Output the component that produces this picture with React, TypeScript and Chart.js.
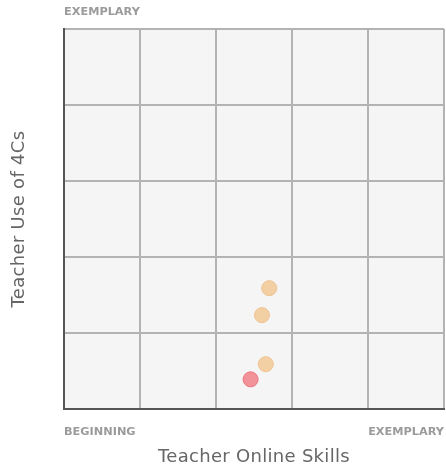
import React, { useEffect, useRef } from "react";
import { Chart, registerables } from "chart.js";

Chart.register(...registerables);

const xLabelStart = "BEGINNING";
const xLabelEnd = "EXEMPLARY";
const yLabelEnd = "EXEMPLARY";
const xTitle = "Teacher Online Skills";
const yTitle = "Teacher Use of 4Cs";

const peachX = [54.0, 52.1, 53.1];
const peachY = [31.8, 24.7, 11.8];
const redX = [49.1];
const redY = [7.8];

const FONT = "'DejaVu Sans', sans-serif";

const bgPlugin = {
  id: "bgPlugin",
  beforeDraw(chart: any) {
    const { ctx, chartArea } = chart;
    ctx.save();
    ctx.fillStyle = "#f5f5f5";
    ctx.fillRect(chartArea.left, chartArea.top, chartArea.right - chartArea.left, chartArea.bottom - chartArea.top);
    ctx.restore();
  },
  afterDraw(chart: any) {
    const { ctx, chartArea } = chart;
    ctx.save();
    ctx.fillStyle = "#9b9b9b";
    ctx.font = `bold 11.3px ${FONT}`;
    ctx.textBaseline = "middle";
    ctx.textAlign = "left";
    ctx.fillText(yLabelEnd, chartArea.left, 12);
    ctx.fillText(xLabelStart, chartArea.left, chartArea.bottom + 23);
    ctx.textAlign = "right";
    ctx.fillText(xLabelEnd, chartArea.right, chartArea.bottom + 23);
    ctx.fillStyle = "#666666";
    ctx.font = `18px ${FONT}`;
    (ctx as any).letterSpacing = "0.3px";
    ctx.textAlign = "center";
    ctx.fillText(xTitle, (chartArea.left + chartArea.right) / 2, chartArea.bottom + 48);
    ctx.translate(19, (chartArea.top + chartArea.bottom) / 2);
    ctx.rotate(-Math.PI / 2);
    ctx.fillText(yTitle, 0, 0);
    ctx.restore();
  },
};

export default function App() {
  const ref = useRef<HTMLCanvasElement>(null);
  useEffect(() => {
    document.body.style.margin = "0";
    const toPts = (xs: number[], ys: number[]) => xs.map((x, i) => ({ x, y: ys[i] }));
    const chart = new Chart(ref.current!, {
      type: "scatter",
      data: {
        datasets: [
          {
            data: toPts(peachX, peachY),
            backgroundColor: "#f3cfa4",
            borderColor: "#f0c393",
            borderWidth: 1,
            pointRadius: 7.5,
          },
          {
            data: toPts(redX, redY),
            backgroundColor: "#f2939a",
            borderColor: "#ee7480",
            borderWidth: 1,
            pointRadius: 7.5,
          },
        ],
      },
      options: {
        responsive: false,
        animation: false,
        layout: { autoPadding: false, padding: { left: 64, right: 2, top: 29, bottom: 62 } },
        plugins: { legend: { display: false }, tooltip: { enabled: false } },
        scales: {
          x: {
            type: "linear",
            min: 0,
            max: 100,
            ticks: { display: false, stepSize: 20 },
            grid: { color: "#b3b3b3", lineWidth: 2, drawTicks: false },
            border: { color: "#555555", width: 2 },
          },
          y: {
            type: "linear",
            min: 0,
            max: 100,
            ticks: { display: false, stepSize: 20 },
            grid: { color: "#b3b3b3", lineWidth: 2, drawTicks: false },
            border: { color: "#555555", width: 2 },
          },
        },
      },
      plugins: [bgPlugin],
    });
    return () => chart.destroy();
  }, []);
  return <canvas ref={ref} width={446} height={471} style={{ display: "block" }} />;
}
